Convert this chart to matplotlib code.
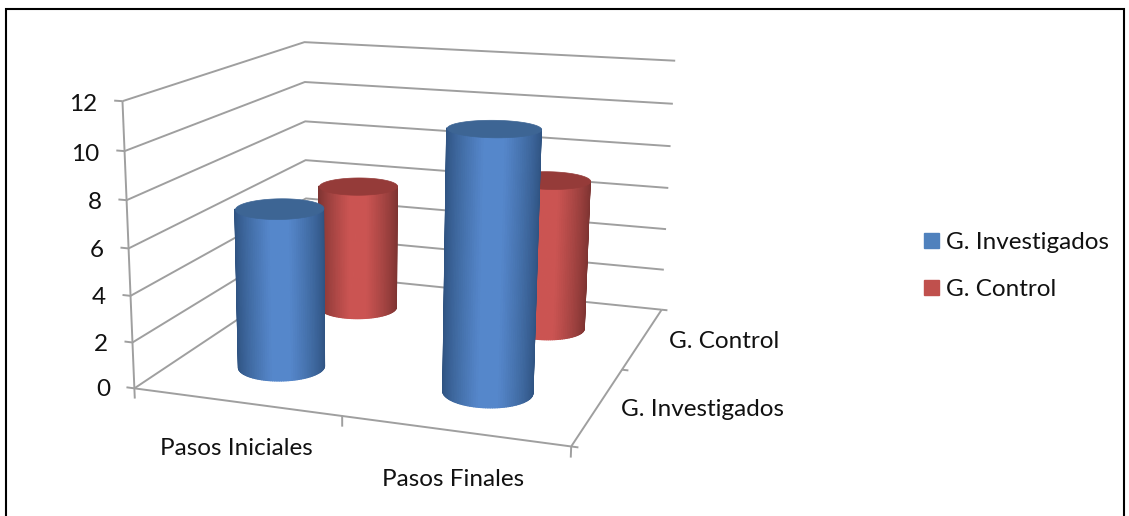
import numpy as np
import matplotlib
matplotlib.use('Agg')
import matplotlib.pyplot as plt
from matplotlib.colors import to_rgb
from matplotlib.patches import Patch, Rectangle
from mpl_toolkits.mplot3d import proj3d
from mpl_toolkits.mplot3d.art3d import Line3DCollection, Poly3DCollection

plt.rcParams['font.family'] = ['Lato', 'DejaVu Sans']

categories = ['Pasos Iniciales', 'Pasos Finales']
series = ['G. Investigados', 'G. Control']
investigados = [7, 11]
control = [6, 7]
z_ticks = [0, 2, 4, 6, 8, 10, 12]

W, H = 1129, 516
GRID = '#9f9f9f'
TEXT = '#111111'
FS = 17.5
RADIUS = 0.2

# box corners (x, y, z) and where they sit in the picture, gives the camera
world = [(0, 0, 0), (0, 0, 12), (0, 2, 0), (0, 2, 12),
         (2, 2, 0), (2, 2, 12), (2, 0, 0)]
pixel = [(135, 388), (122, 101), (306, 274), (305, 42),
         (662, 309), (675, 61), (571, 447)]


def fit_camera(world, pixel):
    rows = []
    for (x, y, z), (u, v) in zip(world, pixel):
        rows.append([x, y, z, 1, 0, 0, 0, 0, -u*x, -u*y, -u*z, -u])
        rows.append([0, 0, 0, 0, x, y, z, 1, -v*x, -v*y, -v*z, -v])
    p = np.linalg.svd(np.array(rows, float))[2][-1].reshape(3, 4)
    p = p / p[2, 3]
    # third row only orders the polygons: further away = larger
    return np.array([p[0], p[1], p[2] - [0, 0, 0, 1], p[2]])


def label(ax, x, y, z, s, **kw):
    px, py, _ = proj3d.proj_transform(x, y, z, ax.get_proj())
    ax.text2D(px, py, s, transform=ax.transData, fontsize=FS, color=TEXT, **kw)


def cylinder(ax, cx, cy, height, dark, light, cap, zo):
    proj = ax.get_proj()
    circle = np.linspace(np.pi/2, 2.5*np.pi, 721)
    cx_pts = cx + RADIUS*np.cos(circle)
    cy_pts = cy + RADIUS*np.sin(circle)
    sx = proj3d.proj_transform(cx_pts, cy_pts, 0*circle, proj)[0]

    # only the front half is drawn, between the two screen edges of the circle
    theta = np.linspace(circle[np.argmin(sx)], circle[np.argmax(sx)], 61)
    T, Z = np.meshgrid(theta, [0.0, height])
    X = cx + RADIUS*np.cos(T)
    Y = cy + RADIUS*np.sin(T)

    # dark at the screen edges of the cylinder, light down the middle
    u = (proj3d.proj_transform(X[0], Y[0], Z[0], proj)[0] - sx.min())/np.ptp(sx)*2 - 1
    u = (u[:-1] + u[1:])/2
    t = np.clip((1 - np.abs(u))/0.8, 0, 1)**0.8
    d, l = np.array(to_rgb(dark)), np.array(to_rgb(light))
    rgba = np.ones((1, len(u), 4))
    rgba[0, :, :3] = d + (l - d)*t[:, None]

    ax.plot_surface(X, Y, Z, facecolors=rgba, shade=False, rstride=1, cstride=1,
                    linewidth=0.9, zorder=zo)
    top = list(zip(cx_pts, cy_pts, np.full(circle.shape, height)))
    ax.add_collection3d(Poly3DCollection([top], facecolors=cap, edgecolors=cap,
                                         linewidths=0.5, zorder=zo + 0.5))


fig = plt.figure(figsize=(W/100, H/100), dpi=100)
ax = fig.add_axes([0, 0, 1, 1], projection='3d', computed_zorder=False)
ax.set_axis_off()

M = fit_camera(world, pixel)
ax.get_proj = lambda: M
ax.apply_aspect = lambda position=None: None
ax.viewLim.intervalx = (0, W)
ax.viewLim.intervaly = (H, 0)

segments = []
# walls
for z in z_ticks:
    segments.append([(0, 0, z), (0, 2, z), (2, 2, z)])
    segments.append([(-0.04, 0, z), (0, 0, z)])
    label(ax, -0.125, 0, z - 0.2, str(z), ha='right', va='center')
segments.append([(0, 0, -0.45), (0, 0, 12)])

# floor edges and ticks
segments.append([(0, 0, 0), (2, 0, 0), (2, 2, 0)])
for x in [1, 2]:
    segments.append([(x, 0, 0), (x, 0, -0.45)])
for y in [0, 1, 2]:
    segments.append([(2, y, 0), (2.03, y, 0)])
ax.add_collection3d(Line3DCollection(segments, colors=GRID, linewidths=1.4, zorder=1),
                    autolim=False)

# back row first so the front row paints over it
for i, v in enumerate(control):
    cylinder(ax, i + 0.5, 1.5, v, '#7c3331', '#cb5452', '#953b39', 2 + i)
for i, v in enumerate(investigados):
    cylinder(ax, i + 0.5, 0.5, v, '#2f5381', '#5587cb', '#3d6594', 4 + i)

for i, name in enumerate(categories):
    label(ax, i + 0.5, 0, -2.02, name, ha='center', va='center')
for i, (name, off) in enumerate(zip(series, [2.10, 2.13])):
    label(ax, off, i + 0.5, -0.05, name, ha='left', va='center')

handles = [Patch(color='#4f81bd', label=series[0]),
           Patch(color='#c0504d', label=series[1])]
fig.legend(handles=handles, loc='center left', bbox_to_anchor=(902/W, 1 - 266/H),
           frameon=False, fontsize=FS, handlelength=0.62, handleheight=0.62,
           handletextpad=0.29, labelspacing=1.07, labelcolor=TEXT)

fig.add_artist(Rectangle((6/W, -0.05), 1118/W, 1.05 - 9/H, fill=False, ec='black',
                         lw=1.5, transform=fig.transFigure))

fig.savefig('out.png', dpi=100)
